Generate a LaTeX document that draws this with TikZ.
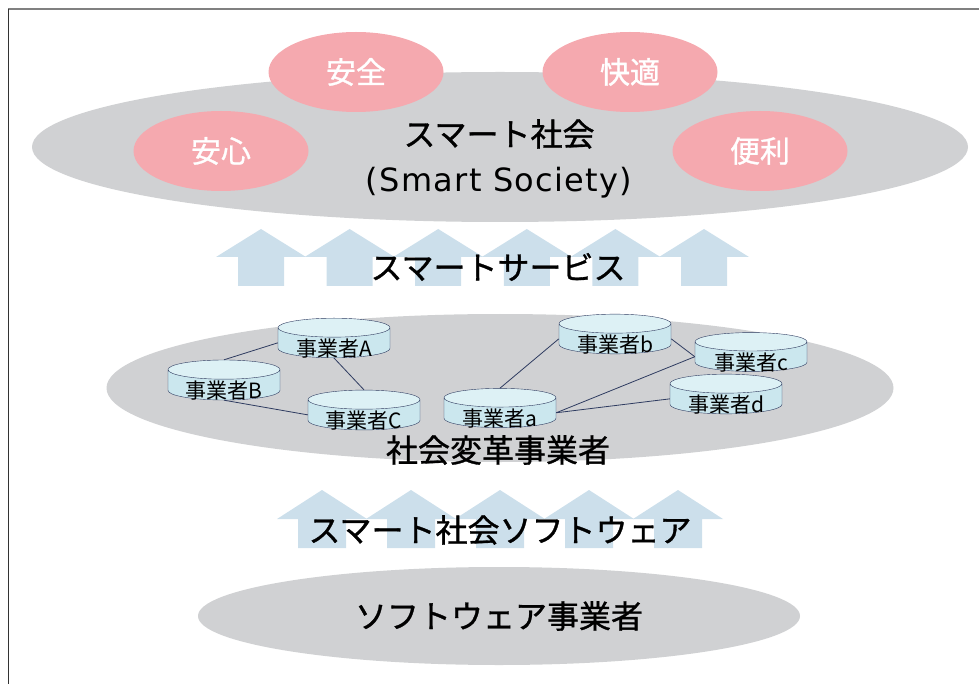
\documentclass[tikz,border=0pt]{standalone}
\usepackage{fontspec}
\setmainfont{Noto Sans CJK JP}
\newfontfamily\heavyjp{Noto Sans CJK JP}[FakeBold=1]
\newfontfamily\widelatin{DejaVu Sans}[LetterSpace=4]
\usetikzlibrary{shapes.geometric}

\definecolor{socgray}{HTML}{D0D1D3}
\definecolor{valpink}{HTML}{F5A9AF}
\definecolor{flowblue}{HTML}{CCDFEB}
\definecolor{cylbody}{HTML}{CBE7EE}
\definecolor{cyltop}{HTML}{DDF1F5}
\definecolor{cylline}{HTML}{2E3B60}

\tikzset{
  layer/.style={ellipse, fill=socgray, inner sep=0pt, font=\heavyjp\fontsize{32}{36}\selectfont},
  value/.style={ellipse, fill=valpink, inner sep=0pt, minimum width=175pt, minimum height=80pt,
    text=white, font=\heavyjp\fontsize{30}{32}\selectfont},
  bigtext/.style={inner sep=0pt, font=\heavyjp\fontsize{32}{36}\selectfont},
  firm/.style={cylinder, shape border rotate=90, draw=cylline, aspect=0.25,
    minimum width=112pt, minimum height=38pt, inner xsep=0pt, inner ysep=-8pt,
    anchor=shape center, text height=27pt, text depth=0pt,
    cylinder uses custom fill, cylinder body fill=cylbody, cylinder end fill=cyltop,
    font=\fontsize{21}{22}\selectfont},
  link/.style={draw=cylline, line width=0.8pt},
  upflow/.style={fill=flowblue}
}

\begin{document}
\begin{tikzpicture}[x=1pt,y=-1pt]
\useasboundingbox (0,0) rectangle (979,684);
% frame
\draw[gray, line width=1.3pt] (8,9) -- (979,9);
\draw[black!80, line width=0.8pt] (8,9) -- (8,684);

% smart society
\node[layer, minimum width=936pt, minimum height=150pt] (society) at (500,147) {};
\node[value] (anshin) at (221,151) {安心};
\node[value] (anzen) at (356,72) {安全};
\node[value] (kaiteki) at (630,72) {快適};
\node[value] (benri) at (760,151) {便利};
\node[bigtext] (smart) at (499,134) {スマート社会};
\node[bigtext, font=\widelatin\fontsize{32}{36}\selectfont] (smarten) at (499,183) {(Smart Society)};

% services
\foreach \i in {0,...,5}
  \fill[upflow] ({261+88.6*\i},229) -- ++(45,28) -- ++(-22,0) -- ++(0,29)
    -- ++(-46,0) -- ++(0,-29) -- ++(-22,0) -- cycle;
\node[bigtext] (service) at (498,267) {スマートサービス};

% reformers
\node[layer, minimum width=787pt, minimum height=148pt] (reform) at (500,388) {};
\node[firm] (fA) at (334,338) {事業者A};
\node[firm] (fB) at (224,380) {事業者B};
\node[firm] (fC) at (364,410) {事業者C};
\node[firm] (fa) at (500,408) {事業者a};
\node[firm] (fb) at (615,334) {事業者b};
\node[firm] (fc) at (751,352) {事業者c};
\node[firm] (fd) at (726,394) {事業者d};
\draw[link] (fA.west) -- (fB.north);
\draw[link] (fA.south) -- (fC.north);
\draw[link] (fB.south) -- (fC.west);
\draw[link] (fa.north) -- (fb.west);
\draw[link] (fb.east) -- (fc.west);
\draw[link] (fa.east) -- (fc.west);
\draw[link] (fa.east) -- (fd.west);
\node[bigtext] (reformtext) at (498,450) {社会変革事業者};

% software
\foreach \i in {0,...,4}
  \fill[upflow] ({322+89*\i},490) -- ++(45,29) -- ++(-21,0) -- ++(0,29)
    -- ++(-48,0) -- ++(0,-29) -- ++(-21,0) -- cycle;
\node[bigtext] (softtext) at (500,530) {スマート社会ソフトウェア};
\node[layer, minimum width=602pt, minimum height=98pt] (software) at (499,616) {ソフトウェア事業者};
\end{tikzpicture}
\end{document}
